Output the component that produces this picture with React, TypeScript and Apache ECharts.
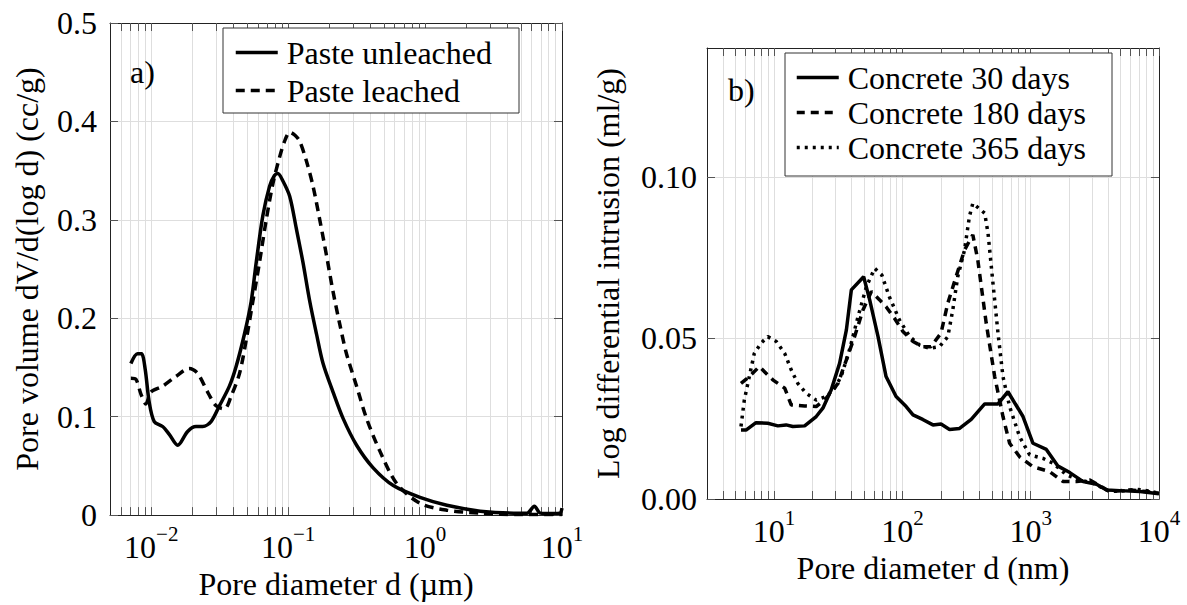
import React, { useEffect, useRef } from "react";
import * as echarts from "echarts";

// ---------- data: left panel (paste), diameter in µm, volume in cc/g ----------
const unleachedD = [0.0071, 0.00794, 0.00849, 0.00904, 0.00966, 0.01052, 0.01211, 0.01355, 0.0156, 0.01845, 0.02123, 0.02377, 0.02735, 0.03148, 0.03724, 0.04169, 0.04797, 0.0537, 0.05848, 0.06531, 0.07311, 0.07943, 0.08414, 0.0912, 0.1026, 0.1148, 0.1282, 0.1439, 0.1611, 0.1799, 0.2128, 0.2523, 0.3162, 0.4178, 0.5861, 0.9183, 1.442, 2.529, 4.436, 5.559, 6.281, 6.95, 8.71, 9.66, 10];
const unleachedV = [0.154, 0.164, 0.164, 0.148, 0.115, 0.095, 0.09, 0.082, 0.071, 0.085, 0.09, 0.09, 0.095, 0.111, 0.131, 0.151, 0.184, 0.217, 0.257, 0.304, 0.334, 0.345, 0.347, 0.34, 0.324, 0.291, 0.257, 0.217, 0.184, 0.154, 0.125, 0.098, 0.071, 0.048, 0.03, 0.018, 0.01, 0.004, 0.002, 0.002, 0.009, 0.002, 0.0015, 0.002, 0.007];
const leachedD = [0.0071, 0.00773, 0.00841, 0.00914, 0.00995, 0.01211, 0.01517, 0.01897, 0.02183, 0.02582, 0.02979, 0.03428, 0.03837, 0.04416, 0.04943, 0.05521, 0.0618, 0.06918, 0.07745, 0.0867, 0.0955, 0.1026, 0.1122, 0.1213, 0.1358, 0.1521, 0.1702, 0.1905, 0.2128, 0.2382, 0.2667, 0.3162, 0.3741, 0.4677, 0.6209, 0.9183, 1.442, 2.529, 5.0, 10];
const leachedV = [0.139, 0.138, 0.123, 0.113, 0.125, 0.131, 0.141, 0.149, 0.144, 0.125, 0.111, 0.108, 0.121, 0.144, 0.178, 0.217, 0.257, 0.3, 0.337, 0.364, 0.382, 0.389, 0.386, 0.38, 0.36, 0.334, 0.3, 0.264, 0.227, 0.194, 0.164, 0.131, 0.098, 0.065, 0.032, 0.012, 0.005, 0.002, 0.0005, 0.0005];

// ---------- data: right panel (concrete), diameter in nm, intrusion in ml/g ----------
const c30D = [5.52, 6.04, 7.23, 8.93, 10.7, 12.4, 14.0, 17.3, 21.3, 24.0, 27.9, 32.4, 36.6, 40.0, 49.9, 55.6, 64.6, 74.6, 89.3, 107, 121, 144, 173, 200, 233, 279, 344, 438, 556, 665, 871, 1042, 1324, 1633, 2018, 2564, 3258, 3899, 4955, 7112, 10000];
const c30V = [0.0214, 0.0214, 0.0237, 0.0235, 0.0227, 0.023, 0.0225, 0.0227, 0.0256, 0.0282, 0.0339, 0.0421, 0.0525, 0.0649, 0.069, 0.0618, 0.0504, 0.038, 0.0318, 0.0287, 0.0261, 0.0247, 0.023, 0.0233, 0.0216, 0.0219, 0.0247, 0.0295, 0.0295, 0.0333, 0.0256, 0.0173, 0.0154, 0.0102, 0.0082, 0.0054, 0.0046, 0.0028, 0.0026, 0.0023, 0.0016];
const c180D = [5.52, 6.41, 7.67, 9.77, 12.1, 13.6, 17.3, 21.3, 25.5, 31.5, 36.6, 42.4, 49.3, 57.3, 66.5, 74.6, 86.7, 101, 121, 144, 167, 200, 226, 262, 305, 354, 387, 450, 524, 608, 685, 820, 1042, 1406, 1791, 2275, 2891, 4140, 5929, 8017, 10000];
const c180V = [0.0359, 0.038, 0.0411, 0.037, 0.0344, 0.0292, 0.0289, 0.0287, 0.0313, 0.0359, 0.0432, 0.0504, 0.0587, 0.0644, 0.0618, 0.0597, 0.0561, 0.052, 0.0489, 0.0473, 0.0473, 0.0515, 0.0608, 0.069, 0.0773, 0.082, 0.0742, 0.0546, 0.038, 0.0256, 0.0173, 0.0131, 0.01, 0.0085, 0.0054, 0.0054, 0.0059, 0.0023, 0.0028, 0.0023, 0.0018];
const c365D = [5.52, 5.86, 6.41, 7.01, 7.91, 8.93, 10.4, 12.1, 13.6, 15.3, 17.8, 21.3, 25.5, 29.6, 33.3, 38.7, 45.1, 52.4, 60.8, 69.2, 79.1, 94.8, 114, 136, 163, 195, 226, 247, 270, 305, 333, 354, 438, 465, 508, 556, 608, 685, 820, 982, 1247, 1493, 1901, 2415, 3069, 4140, 5585, 6699, 8017, 10000];
const c365V = [0.0225, 0.0307, 0.038, 0.0452, 0.0484, 0.0504, 0.0489, 0.0452, 0.0401, 0.0359, 0.0328, 0.0307, 0.0318, 0.0344, 0.038, 0.0463, 0.0566, 0.0659, 0.0716, 0.0695, 0.0628, 0.0556, 0.0504, 0.0478, 0.0468, 0.0473, 0.0504, 0.0587, 0.069, 0.0773, 0.0877, 0.0918, 0.0887, 0.0825, 0.067, 0.0515, 0.038, 0.0287, 0.0193, 0.0137, 0.0126, 0.0111, 0.0075, 0.0059, 0.0049, 0.0023, 0.0026, 0.003, 0.0026, 0.0018];

// ---------- ticks ----------
const leftMajorTicks = [0.01, 0.1, 1, 10];
const leftAllTicks = [0.006, 0.007, 0.008, 0.009, 0.01, 0.02, 0.03, 0.04, 0.05, 0.06, 0.07, 0.08, 0.09, 0.1, 0.2, 0.3, 0.4, 0.5, 0.6, 0.7, 0.8, 0.9, 1, 2, 3, 4, 5, 6, 7, 8, 9, 10];
const rightMajorTicks = [10, 100, 1000, 10000];
const rightAllTicks = [4, 5, 6, 7, 8, 9, 10, 20, 30, 40, 50, 60, 70, 80, 90, 100, 200, 300, 400, 500, 600, 700, 800, 900, 1000, 2000, 3000, 4000, 5000, 6000, 7000, 8000, 9000, 10000];
const leftYTicks = [0, 0.1, 0.2, 0.3, 0.4, 0.5];
const rightYTicks = [0, 0.05, 0.1];

const seriesNamesLeft = ["Paste unleached", "Paste leached"];
const seriesNamesRight = ["Concrete 30 days", "Concrete 180 days", "Concrete 365 days"];

const FONT = "Liberation Serif";
const FS = 32;
const LINE_W = 3.5;
const GRID_COLOR = "#dedede";
const AXIS_COLOR = "#222";
const TICK_COLOR = "#555";

const zip = (xs: number[], ys: number[]) => xs.map((x, i) => [x, ys[i]]);

const powLabel = (v: number) => {
  const e = Math.round(Math.log10(v));
  const s = e < 0 ? "\u2212" + -e : String(e);
  return `{b|10}{s|${s}}`;
};
const richPow = {
  b: { fontSize: FS, fontFamily: FONT, color: "#000", lineHeight: 40, verticalAlign: "bottom" },
  s: { fontSize: 21, fontFamily: FONT, color: "#000", lineHeight: 21, verticalAlign: "top" },
};

function xAxes(grid: number, min: number, max: number, all: number[], major: number[], name: string) {
  const common = {
    type: "log",
    gridIndex: grid,
    min,
    max,
    logBase: 10,
    axisLine: { show: true, onZero: false, lineStyle: { color: AXIS_COLOR, width: 1 } },
    axisTick: { show: true, inside: true, length: 8, customValues: all, lineStyle: { color: TICK_COLOR, width: 1 } },
  };
  return [
    {
      ...common,
      position: "bottom",
      axisLabel: { show: true, customValues: major, margin: 8, formatter: powLabel, rich: richPow, fontFamily: FONT },
      splitLine: { show: true, lineStyle: { color: GRID_COLOR, width: 1 } },
      name,
      nameLocation: "middle",
      nameGap: 47,
      nameTextStyle: { fontSize: FS, fontFamily: FONT, color: "#000" },
    },
    {
      ...common,
      position: "top",
      axisLabel: { show: false },
      splitLine: { show: false },
    },
  ];
}

function yAxes(grid: number, max: number, ticks: number[], fmt: (v: number) => string, name: string, gap: number, margin: number) {
  const common = {
    type: "value",
    gridIndex: grid,
    min: 0,
    max,
    axisLine: { show: true, onZero: false, lineStyle: { color: AXIS_COLOR, width: 1 } },
    axisTick: { show: true, inside: true, length: 8, customValues: ticks, lineStyle: { color: TICK_COLOR, width: 1 } },
  };
  return [
    {
      ...common,
      position: "left",
      axisLabel: { show: true, customValues: ticks, margin, formatter: fmt, fontSize: FS, fontFamily: FONT, color: "#000" },
      splitLine: { show: true, lineStyle: { color: GRID_COLOR, width: 1 } },
      name,
      nameLocation: "middle",
      nameRotate: 90,
      nameGap: gap,
      nameTextStyle: { fontSize: FS, fontFamily: FONT, color: "#000" },
    },
    {
      ...common,
      position: "right",
      axisLabel: { show: false },
      splitLine: { show: false },
    },
  ];
}

const lineSeries = (name: string, x: number, y: number, data: number[][], type: any, smooth: number) => ({
  name,
  type: "line",
  xAxisIndex: x,
  yAxisIndex: y,
  data,
  symbol: "none",
  showSymbol: false,
  smooth,
  itemStyle: { color: "#000" },
  lineStyle: { color: "#000", width: LINE_W, type },
  z: 3,
});

const legendBase = {
  orient: "vertical",
  itemWidth: 42,
  itemHeight: 14,
  padding: 0,
  selectedMode: false,
  z: 10,
  itemStyle: { color: "rgba(0,0,0,0)", borderColor: "rgba(0,0,0,0)", borderWidth: 0, opacity: 0 },
  lineStyle: { width: LINE_W },
  textStyle: { fontSize: FS, fontFamily: FONT, color: "#000", lineHeight: 31, padding: [0, 0, 0, 4] },
};

export default function App() {
  const ref = useRef<HTMLDivElement>(null);
  useEffect(() => {
    if (!ref.current) return;
    const chart = echarts.init(ref.current, undefined, { renderer: "svg" });
    const option: any = {
      animation: false,
      backgroundColor: "#fff",
      textStyle: { fontFamily: FONT },
      grid: [
        { left: 110, top: 23, width: 452, height: 502 },
        { left: 707, top: 48, width: 452, height: 451 },
      ],
      xAxis: [
        ...xAxes(0, 0.005, 10, leftAllTicks, leftMajorTicks, "Pore diameter d (\u00b5m)"),
        ...xAxes(1, 3, 10000, rightAllTicks, rightMajorTicks, "Pore diameter d (nm)"),
      ],
      yAxis: [
        ...yAxes(0, 0.5, leftYTicks, (v) => (v === 0 ? "0" : v.toFixed(1)), "Pore volume dV/d(log d) (cc/g)", 67, 13),
        ...yAxes(1, 0.14, rightYTicks, (v) => v.toFixed(2), "Log differential intrusion (ml/g)", 83, 10),
      ],
      legend: [
        { ...legendBase, data: seriesNamesLeft, left: 234, top: 36.5, itemGap: 6 },
        { ...legendBase, data: seriesNamesRight, left: 795, top: 61.5, itemGap: 3 },
      ],
      graphic: [
        { type: "rect", z: 5, shape: { x: 223, y: 28, width: 296, height: 85 }, style: { fill: "#fff", stroke: "#333", lineWidth: 1 } },
        { type: "rect", z: 5, shape: { x: 785, y: 53, width: 327, height: 123 }, style: { fill: "#fff", stroke: "#333", lineWidth: 1 } },
        { type: "text", z: 6, x: 130, y: 72, style: { text: "a)", fontSize: FS, fontFamily: FONT, fill: "#000", verticalAlign: "middle" } },
        { type: "text", z: 6, x: 728, y: 90, style: { text: "b)", fontSize: FS, fontFamily: FONT, fill: "#000", verticalAlign: "middle" } },
      ],
      series: [
        lineSeries(seriesNamesLeft[0], 0, 0, zip(unleachedD, unleachedV), "solid", 0.3),
        lineSeries(seriesNamesLeft[1], 0, 0, zip(leachedD, leachedV), [9, 6], 0.3),
        lineSeries(seriesNamesRight[0], 2, 2, zip(c30D, c30V), "solid", 0),
        lineSeries(seriesNamesRight[1], 2, 2, zip(c180D, c180V), [8, 6], 0),
        lineSeries(seriesNamesRight[2], 2, 2, zip(c365D, c365V), [3, 5], 0),
      ],
    };
    chart.setOption(option);
    return () => chart.dispose();
  }, []);
  return <div ref={ref} style={{ position: "fixed", left: 0, top: 0, width: 1187, height: 605 }} />;
}
